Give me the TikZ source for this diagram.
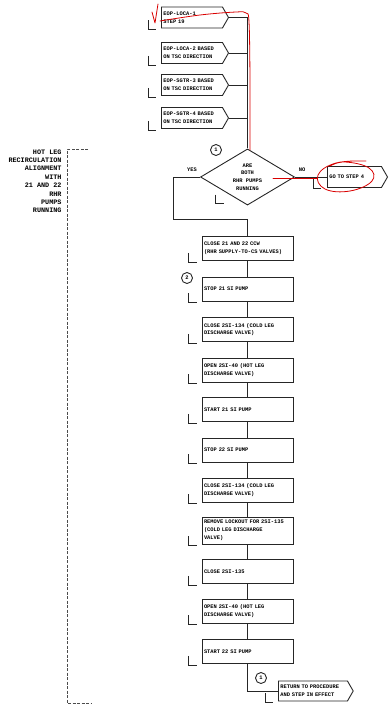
\documentclass[tikz,border=0pt]{standalone}
\usepackage{fontspec}
\setmainfont{Liberation Sans}
\setmonofont{Liberation Mono}
\usetikzlibrary{shapes.geometric,shapes.symbols,positioning,calc}

\begin{document}
\begin{tikzpicture}[
    x=1pt, y=-1pt,
    font=\ttfamily\bfseries\fontsize{5.4}{7.8}\selectfont,
    line width=0.9pt,
    ink/.style={draw=black!85},
    stepbox/.style={rectangle, ink, minimum height=24pt, text width=87pt, inner xsep=2pt, align=left},
    exitbox/.style={signal, signal to=east, signal pointer angle=120, ink, minimum height=21pt, inner xsep=2pt, align=left},
    query/.style={diamond, ink, minimum width=94pt, minimum height=54pt, inner sep=0pt, align=center},
    stepno/.style={circle, ink, minimum size=11pt, inner sep=0pt},
    flow/.style={black!85},
    redpen/.style={draw=red!85!black, line width=0.8pt, line cap=round, line join=round},
    ckmark/.pic={\draw[black!85] (0,-9) -- (0,0) -- (8,0);}
]
    \useasboundingbox (0,0) rectangle (391,707);

    % --- Left: section bracket ---
    \node[anchor=north east, align=right, inner sep=0pt, font=\ttfamily\bfseries\fontsize{6.8}{8.4}\selectfont] (title) at (62,149)
        {HOT LEG\\RECIRCULATION\\ALIGNMENT\\WITH\\21 AND 22\\RHR\\PUMPS\\RUNNING};
    \coordinate (brtop) at (88,149);
    \coordinate (brbot) at (67,703);
    \draw[black!70, dash pattern=on 3pt off 1.5pt] (brtop) -| (brbot) -- ++(25,0);

    % --- Top: exit procedures ---
    \node[exitbox, text width=57pt, anchor=west] (eop1) at (161,17.5) {EOP-LOCA-1\\STEP 19};
    \node[exitbox, text width=57pt, anchor=west] (eop2) at (161,53) {EOP-LOCA-2 BASED\\ON TSC DIRECTION};
    \node[exitbox, text width=57pt, anchor=west] (eop3) at (161,85) {EOP-SGTR-3 BASED\\ON TSC DIRECTION};
    \node[exitbox, text width=57pt, anchor=west] (eop4) at (161,118) {EOP-SGTR-4 BASED\\ON TSC DIRECTION};
    \foreach \b in {eop1,eop2,eop3,eop4}
        \pic at ($(\b.south west)+(-13,1)$) {ckmark};

    % --- Decision ---
    \node[query] (dec) at (247.5,177) {ARE\\BOTH\\RHR PUMPS\\RUNNING};
    \node[stepno] (n1) at (216,150) {1};
    \pic at ($(dec.south)+(-32,-2)$) {ckmark};
    \node (yes) at (192,170) {YES};
    \node (no) at (302,170) {NO};
    \node[exitbox, text width=50pt, anchor=west] (goto) at (327,177) {GO TO STEP 4};
    \pic at ($(goto.south west)+(-14,0)$) {ckmark};

    % Dependencies
    \draw[flow] (eop1.east) -| (dec.north);
    \draw[flow] (eop2.east) -- (eop2.east -| dec.north);
    \draw[flow] (eop3.east) -- (eop3.east -| dec.north);
    \draw[flow] (eop4.east) -- (eop4.east -| dec.north);
    \draw[flow] (dec.east) -- (goto.west);

    % --- Main: realignment steps ---
    \node[stepbox] (c1) at (247.5,248.5) {CLOSE 21 AND 22 CCW\\(RHR SUPPLY-TO-CS VALVES)};
    \node[stepbox] (c2) at (247.5,289) {STOP 21 SI PUMP};
    \node[stepbox] (c3) at (247.5,329.5) {CLOSE 2SI-134 (COLD LEG\\DISCHARGE VALVE)};
    \node[stepbox] (c4) at (247.5,370) {OPEN 2SI-40 (HOT LEG\\DISCHARGE VALVE)};
    \node[stepbox] (c5) at (247.5,409.5) {START 21 SI PUMP};
    \node[stepbox] (c6) at (247.5,450) {STOP 22 SI PUMP};
    \node[stepbox] (c7) at (247.5,490) {CLOSE 2SI-134 (COLD LEG\\DISCHARGE VALVE)};
    \node[stepbox] (c8) at (247.5,530.5) {REMOVE LOCKOUT FOR 2SI-135\\(COLD LEG DISCHARGE\\VALVE)};
    \node[stepbox] (c9) at (247.5,571.5) {CLOSE 2SI-135};
    \node[stepbox] (c10) at (247.5,611) {OPEN 2SI-40 (HOT LEG\\DISCHARGE VALVE)};
    \node[stepbox] (c11) at (247.5,651.5) {START 22 SI PUMP};
    \node[stepno] (n2) at (187,278) {2};
    \foreach \i in {1,...,11}
        \pic at ($(c\i.south west)+(-13,1)$) {ckmark};

    \node[exitbox, text width=65pt, minimum height=20pt, anchor=west] (ret) at (278,691) {RETURN TO PROCEDURE\\AND STEP IN EFFECT};
    \node[stepno] (n3) at (261,678) {1};
    \pic at ($(ret.south west)+(-13,1)$) {ckmark};

    \coordinate (yesbend) at (173,219);
    \draw[flow] (dec.west) -| (yesbend) -| (c1.north);
    \foreach \i [evaluate=\i as \j using int(\i+1)] in {1,...,10}
        \draw[flow] (c\i.south) -- (c\j.north);
    \draw[flow] (c11.south) |- (ret.west);

    % --- Red pen marks ---
    \draw[redpen] (152,12) -- (155,23) -- (158,4);
    \draw[redpen] plot[smooth, tension=0.6] coordinates {(160,21) (200,15) (236,12) (246,13) (249,22) (250,80) (250,150)};
    \draw[redpen] (273,178) -- (317,178);
    \draw[redpen] plot[smooth, tension=0.7] coordinates {(366,161) (336,163) (318,175) (325,189) (350,191) (372,181) (369,168) (345,162) (330,166)};

\end{tikzpicture}
\end{document}
